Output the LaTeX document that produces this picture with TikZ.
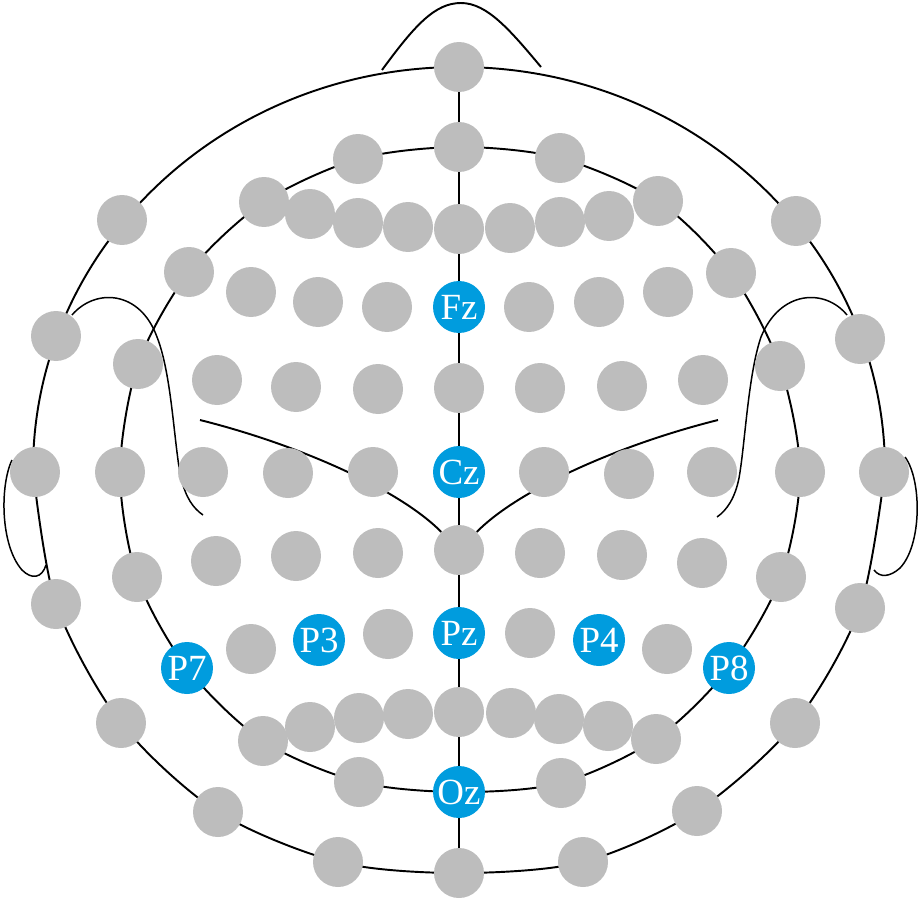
\documentclass[tikz,border=0pt]{standalone}
\usepackage{fontspec}
\setmainfont{Liberation Serif}
\usetikzlibrary{backgrounds}
\definecolor{elgray}{RGB}{189,189,189}
\definecolor{elblue}{RGB}{0,156,222}
\begin{document}
\begin{tikzpicture}[x=0.02cm, y=-0.02cm]
	\tikzstyle{electrode} = [circle, minimum size=1cm, inner sep=0pt, fill=elgray]
	\tikzstyle{marked} = [electrode, minimum size=1.04cm, fill=elblue, text=white, font=\fontsize{21}{21}\selectfont]
	\tikzstyle{head} = [line width=1.1pt]
	\tikzstyle{fold} = [line width=0.85pt]

	\useasboundingbox (0,0) rectangle (922,899);

	% midline and rings
	\foreach \el/\x/\y in {Nz/459/67, Fpz/459/147, AFz/459/229, FCz/459/388, CPz/459/550, POz/459/712, Iz/459/873,
			F9/122/220, FT9/56/336, T9/35/472, TP9/56/604, P9/121/723, PO9/218/812, I1/338/862,
			F10/796/221, FT10/860/339, T10/884/472, TP10/860/608, P10/795/723, PO10/697/811, I2/583/862,
			Fp1/358/159, AF7/264/202, F7/189/272, FT7/138/364, T7/120/472, TP7/137/577, PO7/263/741, O1/359/782,
			Fp2/560/158, AF8/658/201, F8/731/273, FT8/780/366, T8/800/472, TP8/781/577, PO8/656/739, O2/561/783}
		\node[electrode] (\el) at (\x, \y) {};

	% rows
	\foreach \el/\x/\y in {AF5/310/214, AF3/358/223, AF1/408/227, AF2/510/228, AF4/560/222, AF6/609/216,
			F5/251/292, F3/318/302, F1/387/307, F2/529/307, F4/599/302, F6/668/292,
			FC5/217/380, FC3/296/387, FC1/378/389, FC2/540/388, FC4/622/386, FC6/703/380,
			C5/203/472, C3/288/473, C1/373/472, C2/544/472, C4/629/474, C6/712/472,
			CP5/216/561, CP3/296/556, CP1/378/553, CP2/540/553, CP4/622/555, CP6/702/563,
			P5/251/649, P1/388/634, P2/530/633, P6/667/649,
			PO5/310/727, PO3/359/718, PO1/408/714, PO2/511/713, PO4/559/719, PO6/608/726}
		\node[electrode] (\el) at (\x, \y) {};

	\foreach \lbl/\x/\y in {Fz/459/307, Cz/459/472, Pz/459/633, Oz/459/792, P3/319/640, P4/599/640, P7/187/668, P8/729/668}
		\node[marked] (\lbl) at (\x, \y) {\lbl};

	\begin{scope}[on background layer]
		\coordinate (hr) at (885,470);
		\coordinate (hl) at (33,470);

		\draw[head] (Nz) -- (Iz);
		\draw[head] (hr) arc[start angle=0, end angle=-180, x radius=426, y radius=403];
		\draw[head] plot[smooth] coordinates {(hr) (TP10.center) (P10.center) (PO10.center) (I2.center) (Iz.center) (I1.center) (PO9.center) (P9.center) (TP9.center) (hl)};
		\draw[head] plot[smooth cycle] coordinates {(Fpz.center) (Fp2.center) (AF8.center) (F8.center) (FT8.center) (T8.center) (TP8.center) (P8.center) (PO8.center) (O2.center) (Oz.center) (O1.center) (PO7.center) (P7.center) (TP7.center) (T7.center) (FT7.center) (F7.center) (AF7.center) (Fp1.center)};

		% nose and ears
		\draw[head] (382,70) .. controls (415,25) and (435,3) .. (461,3) .. controls (487,3) and (510,30) .. (541,67);
		\draw[fold] (12,460) .. controls (0,485) and (0,545) .. (22,570) .. controls (32,580) and (42,578) .. (46,565);
		\draw[fold] (905,457) .. controls (922,480) and (922,545) .. (900,568) .. controls (890,577) and (880,578) .. (874,570);

		% temporal curves
		\draw[fold] (72,315) .. controls (95,288) and (140,290) .. (157,337) .. controls (172,375) and (174,445) .. (181,478) .. controls (186,498) and (193,508) .. (203,515);
		\draw[fold] (847,315) .. controls (825,288) and (780,290) .. (761,337) .. controls (748,375) and (745,445) .. (739,478) .. controls (735,498) and (727,510) .. (717,517);

		% central sulcus
		\draw[head] (200,420) .. controls (300,445) and (400,490) .. (CPz);
		\draw[head] (718,420) .. controls (618,445) and (518,490) .. (CPz);
	\end{scope}
\end{tikzpicture}
\end{document}
